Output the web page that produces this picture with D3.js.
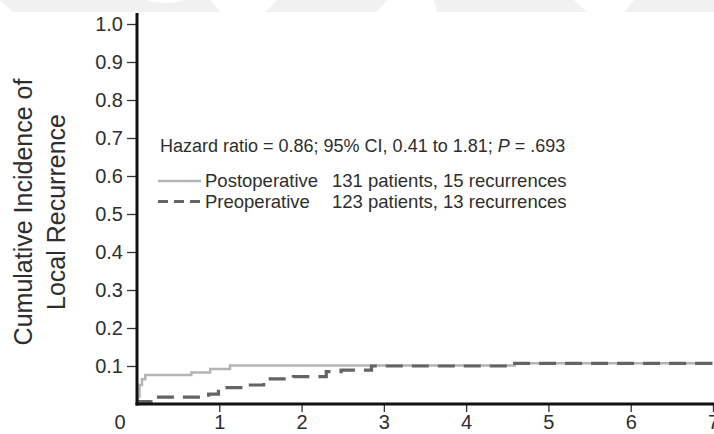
<!DOCTYPE html>
<html>
<head>
<meta charset="utf-8">
<script src="https://cdn.jsdelivr.net/npm/d3@7"></script>
<style>
  html, body { margin: 0; padding: 0; background: #fff; }
  svg { display: block; font-family: "Liberation Sans", Arial, sans-serif; }
</style>
</head>
<body>
<svg id="chart" width="714" height="434"></svg>
<script>
// ---- data ----
const xTickValues = [1, 2, 3, 4, 5, 6, 7];
const xOriginLabel = ["0"];
const yTickValues = [0.1, 0.2, 0.3, 0.4, 0.5, 0.6, 0.7, 0.8, 0.9, 1.0];

const postTimes  = [0, 0.01, 0.03, 0.06, 0.10, 0.66, 0.89, 1.13, 4.59, 7];
const postValues = [0, 0.020, 0.050, 0.065, 0.076, 0.083, 0.092, 0.101, 0.107, 0.107];

const preTimes  = [0, 0.02, 0.17, 0.87, 0.99, 1.33, 1.54, 1.90, 2.30, 2.48, 2.85, 4.59, 7];
const preValues = [0.002, 0.006, 0.018, 0.026, 0.043, 0.050, 0.066, 0.072, 0.085, 0.089, 0.100, 0.107, 0.107];

const seriesNames  = ["Postoperative", "Preoperative"];
const seriesCounts = ["131 patients, 15 recurrences", "123 patients, 13 recurrences"];
const statsLabel   = "Hazard ratio = 0.86; 95% CI, 0.41 to 1.81; ";
const yTitleLines  = ["Cumulative Incidence of", "Local Recurrence"];

// ---- layout ----
const svg = d3.select("#chart");
const x = d3.scaleLinear().domain([0, 7]).range([137, 713]);
const y = d3.scaleLinear().domain([0, 1]).range([404, 24]);

// faint watermark fragment at top
const wm = svg.append("g").attr("fill", "#f1f1f1");
[
  [[0,0],[210,0],[220,12],[13,12]],
  [[277,0],[387,0],[376,12],[265,12]],
  [[434,0],[574,0],[587,12],[437,12]],
  [[634,0],[714,0],[714,12],[624,12]]
].forEach(p => wm.append("polygon").attr("points", p.map(d => d.join(",")).join(" ")));
svg.append("ellipse").attr("cx", 165).attr("cy", -7).attr("rx", 26).attr("ry", 10).attr("fill", "#fff");

// y axis
const yAxis = d3.axisLeft(y).tickValues(yTickValues).tickSize(10).tickPadding(4).tickFormat(d3.format(".1f"));
const gy = svg.append("g").attr("transform", `translate(${x(0)},0)`).call(yAxis);
gy.select(".domain").remove();
gy.selectAll(".tick line").attr("stroke", "#333").attr("stroke-width", 1.3);
gy.selectAll(".tick text").attr("fill", "#2e2e2e").style("font-size", "20px");

// x axis
const xAxis = d3.axisBottom(x).tickValues(xTickValues).tickSize(8).tickPadding(3).tickFormat(d3.format("d"));
const gx = svg.append("g").attr("transform", `translate(0,${y(0)})`).call(xAxis);
gx.select(".domain").remove();
gx.selectAll(".tick line").attr("stroke", "#333").attr("stroke-width", 1.3);
gx.selectAll(".tick text").attr("fill", "#2e2e2e").style("font-size", "20px");
gx.selectAll(".origin").data(xOriginLabel).enter().append("text")
  .attr("x", x(0) - 17).attr("y", 11).attr("dy", "0.71em")
  .attr("text-anchor", "middle").attr("fill", "#2e2e2e").style("font-size", "20px")
  .text(d => d);

// curves
const line = d3.line().x(d => x(d[0])).y(d => y(d[1])).curve(d3.curveStepAfter);
svg.append("path")
  .datum(d3.zip(postTimes, postValues))
  .attr("d", line).attr("fill", "none")
  .attr("stroke", "#b4b4b4").attr("stroke-width", 2.5);
svg.append("path")
  .datum(d3.zip(preTimes, preValues))
  .attr("d", line).attr("fill", "none")
  .attr("stroke", "#646464").attr("stroke-width", 3.2)
  .attr("stroke-dasharray", "17,9");

// axis lines (thick)
svg.append("line").attr("x1", x(0)).attr("x2", x(0)).attr("y1", 13).attr("y2", y(0) + 1.5)
  .attr("stroke", "#111").attr("stroke-width", 3);
svg.append("line").attr("x1", x(0) - 1.5).attr("x2", 714).attr("y1", y(0)).attr("y2", y(0))
  .attr("stroke", "#111").attr("stroke-width", 3);

// y title
const yt = svg.append("text").attr("transform", "translate(0,212) rotate(-90)")
  .attr("text-anchor", "middle").attr("fill", "#2e2e2e").style("font-size", "25px");
yt.selectAll("tspan").data(yTitleLines).enter().append("tspan")
  .attr("x", 0).attr("y", (d, i) => 32 + i * 33).text(d => d);

// stats text
const st = svg.append("text").attr("x", 160).attr("y", 152).attr("fill", "#2e2e2e").style("font-size", "18px");
st.append("tspan").text(statsLabel);
st.append("tspan").attr("font-style", "italic").text("P");
st.append("tspan").text(" = .693");

// legend
const legY = [181, 201.5];
const legStyles = [
  { stroke: "#b4b4b4", width: 2.5, dash: null },
  { stroke: "#646464", width: 3, dash: "10,6" }
];
seriesNames.forEach((name, i) => {
  svg.append("line").attr("x1", 158).attr("x2", 201).attr("y1", legY[i]).attr("y2", legY[i])
    .attr("stroke", legStyles[i].stroke).attr("stroke-width", legStyles[i].width)
    .attr("stroke-dasharray", legStyles[i].dash);
  svg.append("text").attr("x", 205).attr("y", legY[i] + 6).attr("fill", "#2e2e2e")
    .style("font-size", "18.5px").text(name);
  svg.append("text").attr("x", 332).attr("y", legY[i] + 6).attr("fill", "#2e2e2e")
    .style("font-size", "18.5px").text(seriesCounts[i]);
});
</script>
</body>
</html>
